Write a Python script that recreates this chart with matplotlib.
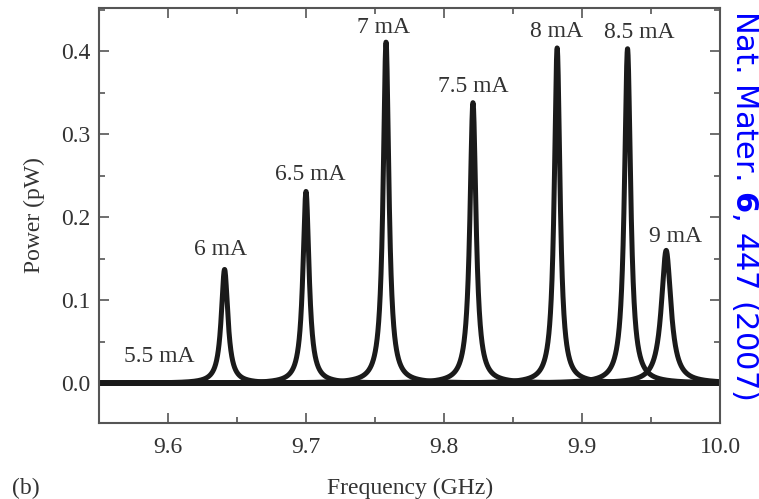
import numpy as np
import matplotlib
matplotlib.use("Agg")
import matplotlib.pyplot as plt
from matplotlib.ticker import MultipleLocator, FormatStrFormatter

# Spectra at each bias current: centre frequency (GHz), peak power (pW), half width (GHz)
currents = ["5.5 mA", "6 mA", "6.5 mA", "7 mA", "7.5 mA", "8 mA", "8.5 mA", "9 mA"]
centres = [9.60, 9.641, 9.700, 9.758, 9.821, 9.882, 9.933, 9.961]
heights = [0.0, 0.137, 0.231, 0.411, 0.338, 0.404, 0.403, 0.160]
half_widths = [0.003, 0.0029, 0.0027, 0.0025, 0.0027, 0.0025, 0.0027, 0.0042]

# Label anchor points (GHz, pW), baseline of the text
label_x = [9.5938, 9.6378, 9.7033, 9.7560, 9.8210, 9.8815, 9.9415, 9.9676]
label_y = [0.025, 0.154, 0.2446, 0.4217, 0.3506, 0.417, 0.4157, 0.170]

serif = ["Liberation Serif", "DejaVu Serif"]
text_col = "#333333"
fs = 17

fig = plt.figure(figsize=(7.59, 4.99), dpi=100)
ax = fig.add_axes([99 / 759, 1 - 423 / 499, (720 - 99) / 759, (423 - 8) / 499])

f = np.linspace(9.55, 10.0, 4000)
for c, h, w in zip(centres, heights, half_widths):
    p = h * w**2 / ((f - c) ** 2 + w**2)
    ax.plot(f, p, color="#1a1a1a", lw=3.6, solid_capstyle="round")

for lab, x, y in zip(currents, label_x, label_y):
    ax.text(x, y, lab, ha="center", va="baseline", fontsize=fs,
            family=serif, color=text_col)

ax.set_xlim(9.55, 10.0)
ax.set_ylim(-0.048, 0.452)
ax.xaxis.set_major_locator(MultipleLocator(0.1))
ax.xaxis.set_minor_locator(MultipleLocator(0.05))
ax.yaxis.set_major_locator(MultipleLocator(0.1))
ax.yaxis.set_minor_locator(MultipleLocator(0.05))
ax.tick_params(which="both", direction="in", top=True, right=True,
               colors="#555555", labelcolor=text_col, labelsize=fs, width=1.2)
ax.tick_params(which="major", length=7)
ax.tick_params(which="minor", length=4)
ax.tick_params(axis="x", pad=10)
ax.tick_params(axis="y", pad=6)
for lbl in ax.get_xticklabels() + ax.get_yticklabels():
    lbl.set_family(serif)
ax.xaxis.set_major_formatter(FormatStrFormatter("%.1f"))
ax.yaxis.set_major_formatter(FormatStrFormatter("%.1f"))
for s in ax.spines.values():
    s.set_color("#555555")
    s.set_linewidth(1.5)

fig.text(410 / 759, 1 - 488 / 499, "Frequency (GHz)", ha="center", va="center",
         fontsize=fs, family=serif, color=text_col)
fig.text(34 / 759, 1 - 215 / 499, "Power (pW)", ha="center", va="center",
         rotation=90, fontsize=fs, family=serif, color=text_col)
fig.text(26 / 759, 1 - 488 / 499, "(b)", ha="center", va="center",
         fontsize=fs, family=serif, color=text_col)

fig.text(745 / 759, 1 - 205 / 499, r"Nat. Mater. $\mathbf{6}$, 447 (2007)",
         ha="center", va="center", rotation=-90, fontsize=22, color="#0000ff")

fig.savefig("out.png", dpi=100)
